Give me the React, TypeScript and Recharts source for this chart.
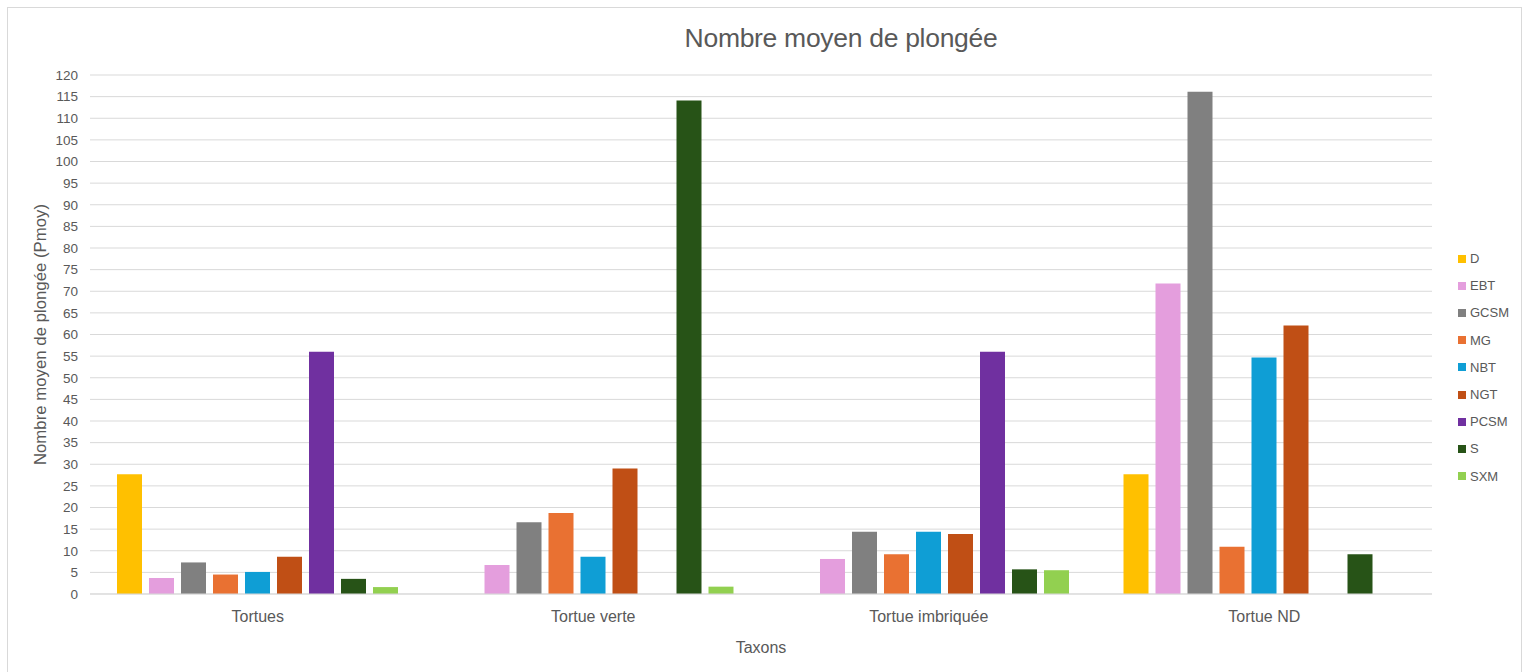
import { BarChart, Bar, XAxis, YAxis, CartesianGrid, Legend } from 'recharts'

const CATEGORIES = ['Tortues', 'Tortue verte', 'Tortue imbriquée', 'Tortue ND']

const SERIES = ['D', 'EBT', 'GCSM', 'MG', 'NBT', 'NGT', 'PCSM', 'S', 'SXM']
const COLORS = ['#FFC000', '#E49EDD', '#808080', '#E97132', '#0F9ED5', '#C04F15', '#7030A0', '#275317', '#92D050']

// one entry per category, one array per series (null = no bar)
const D_VALUES = [27.7, null, null, 27.7]
const EBT_VALUES = [3.7, 6.7, 8.1, 71.8]
const GCSM_VALUES = [7.3, 16.6, 14.4, 116.1]
const MG_VALUES = [4.5, 18.7, 9.2, 10.9]
const NBT_VALUES = [5.1, 8.6, 14.4, 54.7]
const NGT_VALUES = [8.6, 29.0, 13.9, 62.1]
const PCSM_VALUES = [56.0, null, 56.0, null]
const S_VALUES = [3.5, 114.1, 5.7, 9.2]
const SXM_VALUES = [1.6, 1.7, 5.5, null]

const Y_TICKS = [0, 5, 10, 15, 20, 25, 30, 35, 40, 45, 50, 55, 60, 65, 70, 75, 80, 85, 90, 95, 100, 105, 110, 115, 120]

const VALUES = [D_VALUES, EBT_VALUES, GCSM_VALUES, MG_VALUES, NBT_VALUES, NGT_VALUES, PCSM_VALUES, S_VALUES, SXM_VALUES]

const data = CATEGORIES.map((name, i) => {
  const row: Record<string, string | number | null> = { name }
  SERIES.forEach((s, j) => { row[s] = VALUES[j][i] })
  return row
})

const FONT = '"Liberation Sans", Arial, sans-serif'
const TEXT = '#595959'

function LegendBox() {
  return (
    <div style={{ fontFamily: FONT, fontSize: 13, color: TEXT }}>
      {SERIES.map((s, i) => (
        <div key={s} style={{ height: 27.2, display: 'flex', alignItems: 'center' }}>
          <span style={{ width: 8, height: 8, background: COLORS[i], display: 'inline-block', marginRight: 4 }} />
          {s}
        </div>
      ))}
    </div>
  )
}

export default function App() {
  return (
    <div style={{
      position: 'absolute', left: 7, top: 7, width: 1513, height: 664,
      border: '1px solid #d9d9d9', borderBottom: 'none', background: '#fff'
    }}>
      <div style={{
        position: 'absolute', left: 0, width: 1666, top: 15, textAlign: 'center',
        fontFamily: FONT, fontSize: 26.5, color: TEXT, letterSpacing: -0.3
      }}>
        Nombre moyen de plongée
      </div>
      <BarChart
        width={1513}
        height={664}
        data={data}
        margin={{ top: 67, right: 89, bottom: 8, left: 22 }}
        barCategoryGap={27}
        barGap={7}
      >
        <CartesianGrid vertical={false} stroke="#d9d9d9" strokeWidth={1} />
        <XAxis
          dataKey="name"
          height={70}
          tickLine={false}
          axisLine={{ stroke: '#d9d9d9' }}
          tickMargin={11}
          tick={{ fill: TEXT, fontSize: 16, fontFamily: FONT }}
          label={{ value: 'Taxons', position: 'insideBottom', offset: 11, fill: TEXT, fontSize: 16, fontFamily: FONT }}
        />
        <YAxis
          width={60}
          domain={[0, 120]}
          ticks={Y_TICKS}
          interval={0}
          tickLine={false}
          axisLine={false}
          tickMargin={6}
          tick={{ fill: TEXT, fontSize: 13.5, fontFamily: FONT }}
          label={{
            value: 'Nombre moyen de plongée (Pmoy)', angle: -90, position: 'insideLeft', offset: 10,
            style: { textAnchor: 'middle' }, fill: TEXT, fontSize: 16.8, fontFamily: FONT
          }}
        />
        <Legend
          layout="vertical"
          align="center"
          verticalAlign="middle"
          content={() => <LegendBox />}
          wrapperStyle={{ left: 1450, top: 237, width: 70 }}
        />
        {SERIES.map((s, i) => (
          <Bar key={s} dataKey={s} fill={COLORS[i]} isAnimationActive={false} />
        ))}
      </BarChart>
    </div>
  )
}
